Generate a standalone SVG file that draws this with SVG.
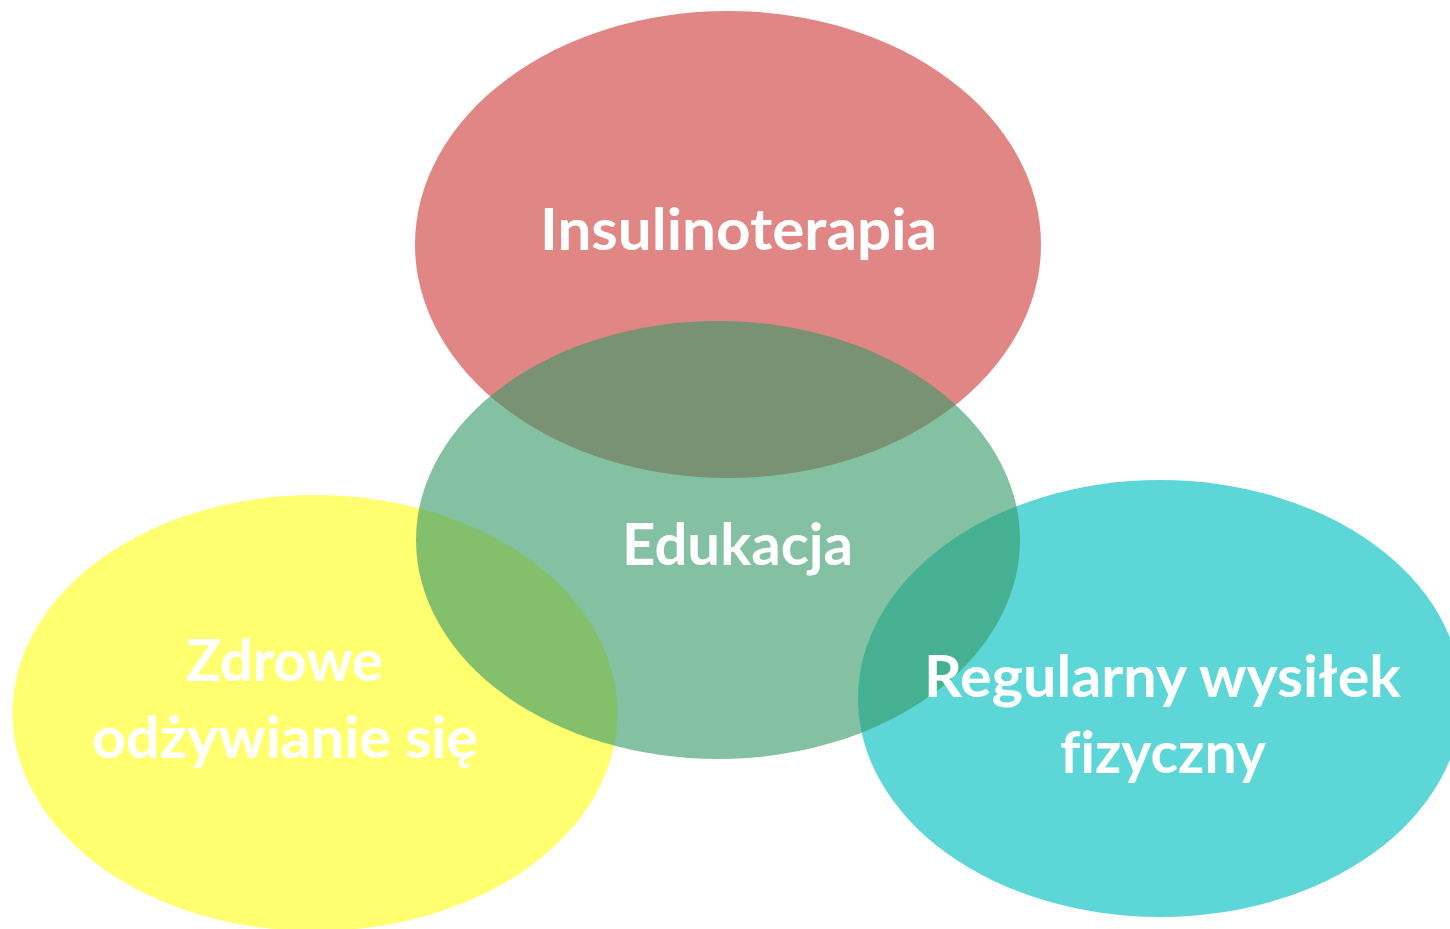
<svg xmlns="http://www.w3.org/2000/svg" width="1450" height="929" viewBox="0 0 1450 929">
  <style>
    .lbl { font-family: Lato, "Open Sans", "Liberation Sans", sans-serif; font-weight: 700; font-size: 58px; fill: #FFFFFF; text-anchor: middle; font-variant-ligatures: none; }
    .green { fill: #399969; fill-opacity: 0.62; }
  </style>
  <defs>
    <clipPath id="clipCyan">
      <ellipse cx="1160" cy="698.5" rx="302" ry="218.5"/>
    </clipPath>
  </defs>
  <rect width="1450" height="929" fill="#FFFFFF"/>
  <g id="node-insulinoterapia">
    <ellipse cx="728" cy="244.5" rx="313" ry="233.5" fill="#E08785"/>
    <text class="lbl" x="738.5" y="250" textLength="397" lengthAdjust="spacingAndGlyphs">Insulinoterapia</text>
  </g>
  <g id="node-zdrowe">
    <ellipse cx="315" cy="713" rx="302.5" ry="218" fill="#FFFF6F"/>
    <text class="lbl" x="284.5" y="681" textLength="197" lengthAdjust="spacingAndGlyphs">Zdrowe</text>
    <text class="lbl" x="285" y="758" textLength="386" lengthAdjust="spacingAndGlyphs">odżywianie się</text>
  </g>
  <g id="node-edukacja">
    <ellipse class="green" cx="718" cy="540" rx="302" ry="219"/>
    <text class="lbl" x="737.5" y="565" textLength="231" lengthAdjust="spacingAndGlyphs">Edukacja</text>
  </g>
  <g id="node-wysilek">
    <ellipse cx="1160" cy="698.5" rx="302" ry="218.5" fill="#5CD6D6"/>
    <ellipse class="green" cx="718" cy="540" rx="302" ry="219" clip-path="url(#clipCyan)"/>
    <text class="lbl" x="1162.5" y="697" textLength="477" lengthAdjust="spacingAndGlyphs">Regularny wysiłek</text>
    <text class="lbl" x="1163" y="773" textLength="206" lengthAdjust="spacingAndGlyphs">fizyczny</text>
  </g>
  <g id="connectors"></g>
</svg>
